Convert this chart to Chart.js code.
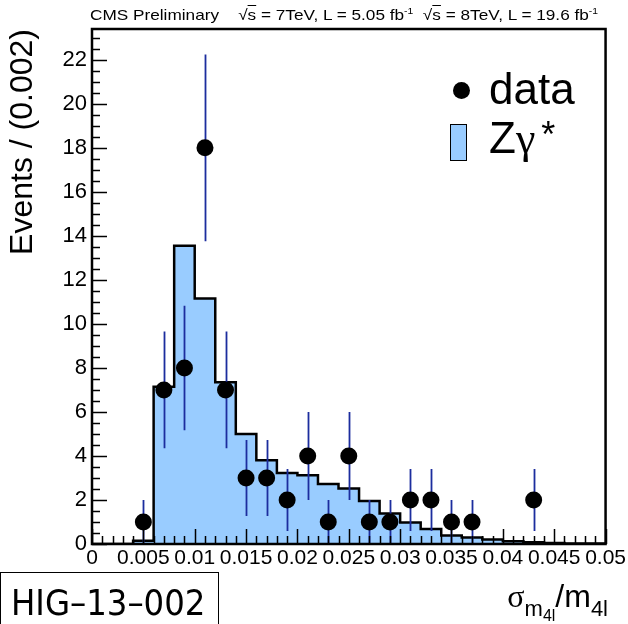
<!DOCTYPE html>
<html>
<head>
<meta charset="utf-8">
<script src="https://cdn.jsdelivr.net/npm/chart.js@4/dist/chart.umd.min.js"></script>
<style>
body { margin: 0; background: #fff; }
#wrap { position: relative; width: 628px; height: 624px; overflow: hidden; }
#chart { position: absolute; left: 0; top: 0; }
.txt { position: absolute; white-space: nowrap; color: #000; font-family: "Liberation Sans", Arial, sans-serif; }
#header { left: 90px; top: 6px; font-family: "Liberation Sans Narrow", "Liberation Sans", sans-serif; font-size: 15px; transform-origin: 0 0; }
#header sup { font-size: 9px; vertical-align: 6px; }
.ol { text-decoration: overline; }
.greek { font-family: "Liberation Serif", "DejaVu Serif", serif; }
#legDot { position: absolute; left: 453px; top: 82px; width: 17px; height: 17px; border-radius: 50%; background: #000; }
#legBox { position: absolute; left: 450px; top: 124px; width: 15px; height: 35px; background: #99ccff; border: 1.5px solid #000; }
#legData { left: 489px; top: 64px; font-size: 44px; }
#legZ { left: 489px; top: 113px; font-size: 44px; }
#legZ .star { font-size: 36px; vertical-align: 6px; margin-left: 6px; }
#hig { left: 0; top: 572px; width: 219px; height: 60px; border: 1.5px solid #000; font-family: "DejaVu Sans Condensed", "DejaVu Sans", sans-serif; font-stretch: condensed; font-size: 36px; line-height: 60px; padding-left: 10px; box-sizing: border-box; }
#xtitle { right: 20px; top: 578px; font-size: 32px; }
#xtitle .s1 { font-size: 22px; vertical-align: -9px; }
#xtitle .s2 { font-size: 16px; vertical-align: -5px; }
</style>
</head>
<body>
<div id="wrap">
  <canvas id="chart" width="628" height="624"></canvas>
  <div class="txt" id="header">CMS Preliminary &nbsp;&nbsp; √<span class="ol">s</span> = 7TeV, L = 5.05 fb<sup>-1</sup> &nbsp;√<span class="ol">s</span> = 8TeV, L = 19.6 fb<sup>-1</sup></div>
  <div id="legDot"></div>
  <div class="txt" id="legData">data</div>
  <div id="legBox"></div>
  <div class="txt" id="legZ">Z<span class="greek">γ</span><span class="star">*</span></div>
  <div class="txt" id="hig">HIG–13–002</div>
  <div class="txt" id="xtitle"><span class="greek">σ</span><span class="s1">m<span class="s2">4l</span></span>/m<span class="s1">4l</span></div>
</div>
<script>
// bins of 0.002 in sigma_m4l / m4l
const binEdges = [0, 0.002, 0.004, 0.006, 0.008, 0.010, 0.012, 0.014, 0.016, 0.018, 0.020,
    0.022, 0.024, 0.026, 0.028, 0.030, 0.032, 0.034, 0.036, 0.038, 0.040,
    0.042, 0.044, 0.046, 0.048, 0.050];
const zgammaCounts = [0, 0, 0.15, 7.15, 13.55, 11.15, 7.35, 5.0, 3.8, 3.23, 3.12,
    2.73, 2.52, 1.95, 1.39, 0.98, 0.68, 0.39, 0.29, 0.21,
    0.12, 0.08, 0.04, 0.02, 0.02];

// observed events
const dataX = [0.005, 0.007, 0.009, 0.011, 0.013, 0.015, 0.017, 0.019, 0.021, 0.023,
    0.025, 0.027, 0.029, 0.031, 0.033, 0.035, 0.037, 0.043];
const dataY = [1, 7, 8, 18, 7, 3, 3, 2, 4, 1, 4, 1, 1, 2, 2, 1, 1, 2];
const dataErr = [1, 2.65, 2.83, 4.24, 2.65, 1.73, 1.73, 1.41, 2, 1, 2, 1, 1, 1.41, 1.41, 1, 1, 1.41];

const xTickValues = [0, 0.005, 0.01, 0.015, 0.02, 0.025, 0.03, 0.035, 0.04, 0.045, 0.05];
const xTickLabels = ["0", "0.005", "0.01", "0.015", "0.02", "0.025", "0.03", "0.035", "0.04", "0.045", "0.05"];
const yTickValues = [0, 2, 4, 6, 8, 10, 12, 14, 16, 18, 20, 22];

let histPoints = [];
for (let i = 0; i < zgammaCounts.length; i++) {
    histPoints.push({x: binEdges[i], y: zgammaCounts[i]});
    histPoints.push({x: binEdges[i + 1], y: zgammaCounts[i]});
}
let dataPoints = dataX.map((x, i) => ({x: x, y: dataY[i]}));

const errorBars = {
    id: 'errorBars',
    afterDatasetDraw(chart, args) {
        if (args.index !== 0) {return}
        const {ctx, scales: {x, y}} = chart;
        ctx.save();
        ctx.strokeStyle = '#1c2d9e';
        ctx.lineWidth = 1.8;
        ctx.beginPath();
        dataX.forEach((v, i) => {
            let px = Math.round(x.getPixelForValue(v)) + 0.5;
            ctx.moveTo(px, y.getPixelForValue(Math.max(0, dataY[i] - dataErr[i])));
            ctx.lineTo(px, y.getPixelForValue(dataY[i] + dataErr[i]));
        });
        ctx.stroke();
        ctx.restore();
    }
};

const frameAndTicks = {
    id: 'frameAndTicks',
    afterDraw(chart) {
        const {ctx, chartArea: a, scales: {x, y}} = chart;
        ctx.save();
        ctx.strokeStyle = '#000';
        ctx.lineWidth = 1.5;
        ctx.beginPath();
        for (let k = 0; k <= 46; k++) {
            let py = Math.round(y.getPixelForValue(k * 0.5)) + 0.5;
            let len = k % 4 === 0 ? 15 : 8;
            ctx.moveTo(a.left, py);
            ctx.lineTo(a.left + len, py);
        }
        for (let k = 0; k <= 50; k++) {
            let px = Math.round(x.getPixelForValue(k * 0.001)) + 0.5;
            let len = k % 5 === 0 ? 15 : 8;
            ctx.moveTo(px, a.bottom);
            ctx.lineTo(px, a.bottom - len);
        }
        ctx.stroke();
        ctx.lineWidth = 2.5;
        ctx.strokeRect(a.left, a.top, a.right - a.left, a.bottom - a.top);
        ctx.restore();
    }
};

Chart.defaults.font.family = '"Liberation Sans", Arial, sans-serif';
Chart.defaults.color = '#000';

new Chart(document.getElementById('chart'), {
    type: 'line',
    data: {
        datasets: [{
            label: 'Zγ*',
            data: histPoints,
            borderColor: '#000',
            borderWidth: 2.5,
            backgroundColor: '#99ccff',
            fill: 'origin',
            pointRadius: 0,
            tension: 0,
            order: 2
        }, {
            label: 'data',
            data: dataPoints,
            showLine: false,
            pointRadius: 8.5,
            pointBackgroundColor: '#000',
            pointBorderWidth: 0,
            order: 1
        }]
    },
    options: {
        responsive: false,
        animation: false,
        layout: { padding: { top: 29, right: 20, left: 0, bottom: 0 } },
        scales: {
            x: {
                type: 'linear',
                min: 0,
                max: 0.05,
                grid: { display: false, drawTicks: false },
                border: { display: false },
                afterBuildTicks: s => { s.ticks = xTickValues.map(v => ({value: v})); },
                afterFit: s => { s.height = 80; },
                ticks: {
                    font: { size: 21 },
                    padding: 2,
                    maxRotation: 0,
                    autoSkip: false,
                    callback: (v, i) => xTickLabels[i]
                }
            },
            y: {
                min: 0,
                max: 23.4,
                grid: { display: false, drawTicks: false },
                border: { display: false },
                afterBuildTicks: s => { s.ticks = yTickValues.map(v => ({value: v})); },
                afterFit: s => { s.width = 92; },
                ticks: {
                    font: { size: 22 },
                    padding: 5,
                    autoSkip: false,
                    callback: v => String(v)
                },
                title: {
                    display: true,
                    text: 'Events / (0.002)',
                    align: 'end',
                    font: { size: 32 },
                    padding: { top: 4, bottom: 0 }
                }
            }
        },
        plugins: {
            legend: { display: false },
            tooltip: { enabled: false }
        }
    },
    plugins: [errorBars, frameAndTicks]
});

// stretch header to span the same width as the reference
let header = document.getElementById('header');
header.style.transform = 'scaleX(' + (508 / header.offsetWidth) + ')';
</script>
</body>
</html>
